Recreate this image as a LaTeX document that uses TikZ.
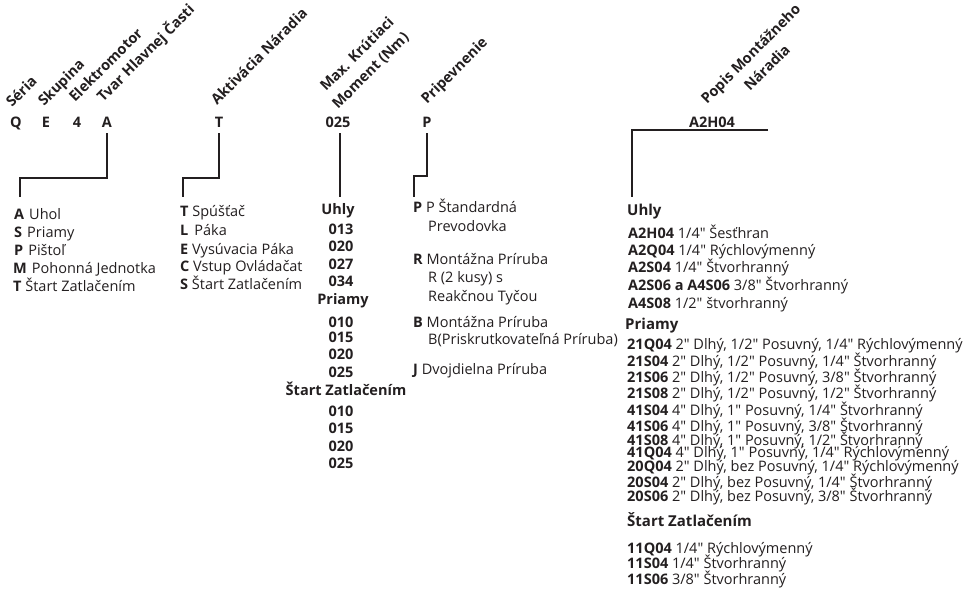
\documentclass[tikz,border=0pt]{standalone}
\usepackage{fontspec}
\setmainfont{Open Sans}[Ligatures=TeXOff]
\definecolor{ink}{HTML}{231F20}
\begin{document}
\begin{tikzpicture}[x=1pt,y=-1pt,
 conn/.style={draw=ink, line width=1.3pt},
 code/.style={anchor=base, inner sep=0, font=\bfseries\fontsize{14.5}{16}\selectfont, text=ink},
 hdr/.style={anchor=base west, inner sep=0, rotate=45, font=\bfseries\fontsize{14.5}{16}\selectfont, text=ink},
 item/.style={anchor=base west, inner sep=0, font=\fontsize{14.5}{16}\selectfont, text=ink},
 citem/.style={anchor=base, inner sep=0, font=\bfseries\fontsize{14.5}{16}\selectfont, text=ink},
 head/.style={anchor=base west, inner sep=0, font=\bfseries\fontsize{15}{16}\selectfont, text=ink}]
\useasboundingbox (0,0) rectangle (963,595);
\fill[white] (0,0) rectangle (963,595);
% rotated headers
\node[hdr] (hS) at (12,108) {Séria};
\node[hdr] (hK) at (44,107) {Skupina};
\node[hdr] (hE) at (75,103) {Elektromotor};
\node[hdr] (hT) at (103,103) {Tvar Hlavnej Časti};
\node[hdr] (hA) at (217,106) {Aktivácia Náradia};
\node[hdr] (hM1) at (326,92) {Max. Krútiaci};
\node[hdr] (hM2) at (338,110) {Moment (Nm)};
\node[hdr] (hP) at (427,105) {Pripevnenie};
\node[hdr] (hD1) at (707,105) {Popis Montážneho};
\node[hdr] (hD2) at (750,92) {Náradia};
% codes
\node[code] (cQ) at (16,127) {Q};
\node[code] (cE) at (46,127) {E};
\node[code] (c4) at (77,127) {4};
\node[code] (cA) at (107,127) {A};
\node[code] (cT) at (219,127) {T};
\node[code] (cM) at (338,127) {025};
\node[code] (cP) at (427,127) {P};
\node[code] (cD) at (712,127) {A2H04};
% connector points
\coordinate (kA1) at (20,178);  \coordinate (kA) at (20,197);
\coordinate (kT1) at (183,178); \coordinate (kT) at (183,197);
\coordinate (kM) at (340,197);
\coordinate (kP1) at (414,176); \coordinate (kP) at (414,197);
\coordinate (kD1) at (768,130); \coordinate (kD) at (632,197);
\draw[conn] ([yshift=-6pt]cA.base) |- (kA1) -- (kA);
\draw[conn] ([yshift=-6pt]cT.base) |- (kT1) -- (kT);
\draw[conn] ([yshift=-6pt]cM.base -| kM) -- (kM);
\draw[conn] ([yshift=-6pt]cP.base) |- (kP1) -- (kP);
\draw[conn] (kD1) -| (kD);
% list 1
\node[item] (a1) at (14,219) {\textbf{A}\hspace{5pt}Uhol};
\node[item] (a2) at (14,237) {\textbf{S}\hspace{5pt}Priamy};
\node[item] (a3) at (14,255) {\textbf{P}\hspace{5pt}Pištoľ};
\node[item] (a4) at (13,273) {\textbf{M}\hspace{5pt}Pohonná Jednotka};
\node[item] (a5) at (13,291) {\textbf{T} Štart Zatlačením};
% list 2
\node[item] (t1) at (180,216) {\textbf{T} Spúšťač};
\node[item] (t2) at (180,235) {\textbf{L}\hspace{6pt}Páka};
\node[item] (t3) at (180,254) {\textbf{E} Vysúvacia Páka};
\node[item] (t4) at (180,271) {\textbf{C} Vstup Ovládačat};
\node[item] (t5) at (180,289) {\textbf{S} Štart Zatlačením};
% list 3
\node[citem] (m0) at (338,214) {Uhly};
\node[citem] (m1) at (341,234) {013};
\node[citem] (m2) at (341,251) {020};
\node[citem] (m3) at (341,269) {027};
\node[citem] (m4) at (341,286) {034};
\node[citem] (m5) at (343,304) {Priamy};
\node[citem] (m6) at (341,327) {010};
\node[citem] (m7) at (341,342) {015};
\node[citem] (m8) at (341,359) {020};
\node[citem] (m9) at (341,377) {025};
\node[citem] (m10) at (346,395) {Štart Zatlačením};
\node[citem] (m11) at (341,416) {010};
\node[citem] (m12) at (341,433) {015};
\node[citem] (m13) at (341,451) {020};
\node[citem] (m14) at (341,468) {025};
% list 4
\node[item] (p1) at (413,212) {\textbf{P} P Štandardná};
\node[item] (p1b) at (428,231) {Prevodovka};
\node[item] (p2) at (413,264) {\textbf{R} Montážna Príruba};
\node[item] (p2b) at (428,282) {R (2 kusy) s};
\node[item] (p2c) at (428,301) {Reakčnou Tyčou};
\node[item] (p3) at (413,327) {\textbf{B} Montážna Príruba};
\node[item] (p3b) at (428,344) {B(Priskrutkovateľná Príruba)};
\node[item] (p4) at (413,374) {\textbf{J} Dvojdielna Príruba};
% list 5
\node[head] (d0) at (627,215) {Uhly};
\node[item] (d1) at (628,238) {\textbf{A2H04} 1/4" Šesťhran};
\node[item] (d2) at (628,255) {\textbf{A2Q04} 1/4" Rýchlovýmenný};
\node[item] (d3) at (628,272) {\textbf{A2S04} 1/4" Štvorhranný};
\node[item] (d4) at (628,290) {\textbf{A2S06 a A4S06} 3/8" Štvorhranný};
\node[item] (d5) at (628,308) {\textbf{A4S08} 1/2" štvorhranný};
\node[head] (e0) at (625,329) {Priamy};
\node[item] (e1) at (627,349) {\textbf{21Q04} 2" Dlhý, 1/2" Posuvný, 1/4" Rýchlovýmenný};
\node[item] (e2) at (627,366) {\textbf{21S04} 2" Dlhý, 1/2" Posuvný, 1/4" Štvorhranný};
\node[item] (e3) at (627,382) {\textbf{21S06} 2" Dlhý, 1/2" Posuvný, 3/8" Štvorhranný};
\node[item] (e4) at (627,398) {\textbf{21S08} 2" Dlhý, 1/2" Posuvný, 1/2" Štvorhranný};
\node[item] (e5) at (627,415) {\textbf{41S04} 4" Dlhý, 1" Posuvný, 1/4" Štvorhranný};
\node[item] (e6) at (627,431) {\textbf{41S06} 4" Dlhý, 1" Posuvný, 3/8" Štvorhranný};
\node[item] (e7) at (627,445) {\textbf{41S08} 4" Dlhý, 1" Posuvný, 1/2" Štvorhranný};
\node[item] (e8) at (627,457) {\textbf{41Q04} 4" Dlhý, 1" Posuvný, 1/4" Rýchlovýmenný};
\node[item] (e9) at (627,471) {\textbf{20Q04} 2" Dlhý, bez Posuvný, 1/4" Rýchlovýmenný};
\node[item] (e10) at (627,487) {\textbf{20S04} 2" Dlhý, bez Posuvný, 1/4" Štvorhranný};
\node[item] (e11) at (627,501) {\textbf{20S06} 2" Dlhý, bez Posuvný, 3/8" Štvorhranný};
\node[head] (f0) at (627,526) {Štart Zatlačením};
\node[item] (f1) at (627,553) {\textbf{11Q04} 1/4" Rýchlovýmenný};
\node[item] (f2) at (627,568) {\textbf{11S04} 1/4" Štvorhranný};
\node[item] (f3) at (627,584) {\textbf{11S06} 3/8" Štvorhranný};
\end{tikzpicture}
\end{document}
